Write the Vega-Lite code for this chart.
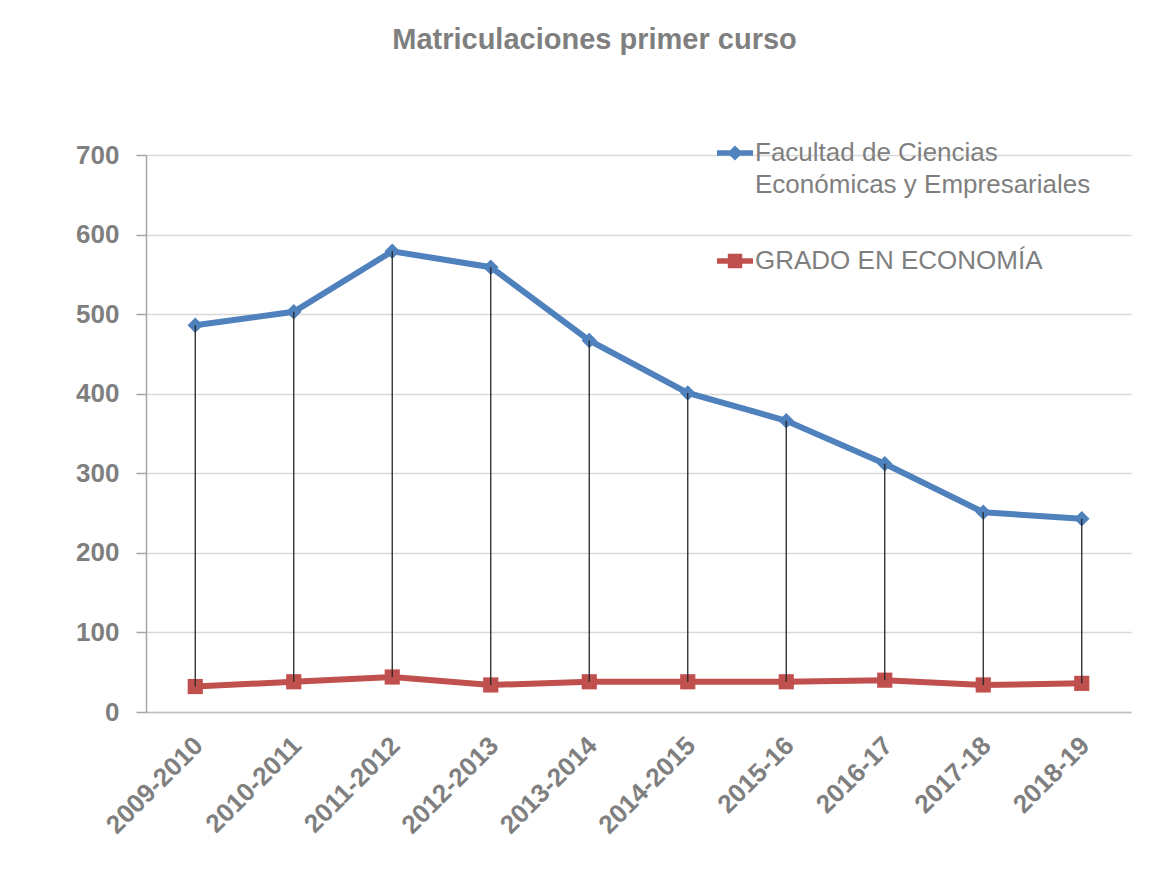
{
  "$schema": "https://vega.github.io/schema/vega-lite/v6.json",
  "width": 985,
  "height": 557,
  "autosize": {"type": "none"},
  "padding": {"left": 146, "top": 155, "right": 38, "bottom": 167},
  "background": "white",
  "config": {
    "view": {"stroke": null},
    "font": "Liberation Sans, sans-serif"
  },
  "title": {
    "text": "Matriculaciones primer curso",
    "fontSize": 29,
    "fontWeight": "bold",
    "color": "#7f7f7f",
    "font": "Liberation Sans, sans-serif",
    "anchor": "middle",
    "frame": "group",
    "dx": -44,
    "offset": 80
  },
  "data": {
    "values": [
      {"curso": "2009-2010", "fac": 486, "grado": 32},
      {"curso": "2010-2011", "fac": 503, "grado": 38},
      {"curso": "2011-2012", "fac": 579, "grado": 44},
      {"curso": "2012-2013", "fac": 559, "grado": 34},
      {"curso": "2013-2014", "fac": 467, "grado": 38},
      {"curso": "2014-2015", "fac": 401, "grado": 38},
      {"curso": "2015-16", "fac": 366, "grado": 38},
      {"curso": "2016-17", "fac": 312, "grado": 40},
      {"curso": "2017-18", "fac": 251, "grado": 34},
      {"curso": "2018-19", "fac": 243, "grado": 36}
    ]
  },
  "encoding": {
    "x": {
      "field": "curso",
      "type": "ordinal",
      "sort": null,
      "scale": {"type": "point", "padding": 0.5},
      "axis": {
        "title": null,
        "domain": true,
        "domainColor": "#bfbfbf",
        "domainWidth": 1.5,
        "ticks": false,
        "grid": false,
        "labelAngle": -45,
        "labelAlign": "right",
        "labelBaseline": "top",
        "labelOffset": -6,
        "labelPadding": 20,
        "labelFontSize": 26,
        "labelFontWeight": "bold",
        "labelColor": "#7f7f7f",
        "labelFont": "Liberation Sans, sans-serif"
      }
    }
  },
  "layer": [
    {
      "transform": [{"fold": ["fac", "grado"], "as": ["serie", "valor"]}],
      "mark": {"type": "line", "strokeWidth": 6},
      "encoding": {
        "y": {
          "field": "valor",
          "type": "quantitative",
          "scale": {"domain": [0, 700], "nice": false},
          "axis": {
            "title": null,
            "values": [0, 100, 200, 300, 400, 500, 600, 700],
            "grid": true,
            "gridColor": "#d9d9d9",
            "gridWidth": 1.5,
            "domain": true,
            "domainColor": "#a6a6a6",
            "domainWidth": 1.5,
            "ticks": true,
            "tickColor": "#a6a6a6",
            "tickSize": 10,
            "tickWidth": 1.5,
            "labelPadding": 17,
            "labelFontSize": 26,
            "labelFontWeight": "bold",
            "labelColor": "#7f7f7f",
            "labelFont": "Liberation Sans, sans-serif"
          }
        },
        "color": {
          "field": "serie",
          "type": "nominal",
          "scale": {"domain": ["fac", "grado"], "range": ["#4f81bd", "#c0504d"]},
          "legend": {
            "orient": "none",
            "legendX": 571,
            "legendY": -20,
            "title": null,
            "symbolType": "M-1,-0.15H1V0.15H-1Z",
            "symbolSize": 1296,
            "symbolStrokeWidth": 0,
            "labelFontSize": 26,
            "labelFont": "Liberation Sans, sans-serif",
            "labelColor": "#7f7f7f",
            "labelFontWeight": "normal",
            "labelOffset": 2,
            "labelLimit": 600,
            "rowPadding": 45,
            "labelExpr": "datum.value === 'fac' ? ['Facultad de Ciencias', 'Económicas y Empresariales'] : 'GRADO EN ECONOMÍA'",
            "encode": {
              "symbols": {
                "update": {
                  "shape": {"signal": "datum.value === 'grado' ? 'M-1,-0.15H1V0.15H-1Z M-0.4,-0.4H0.4V0.4H-0.4Z' : 'M-1,-0.15H1V0.15H-1Z M0,-0.42L0.42,0L0,0.42L-0.42,0Z'"},
                  "fill": {"signal": "datum.value === 'grado' ? '#c0504d' : '#4f81bd'"},
                  "strokeWidth": {"value": 0}
                }
              },
              "labels": {
                "update": {"lineHeight": {"value": 32}}
              }
            }
          }
        }
      }
    },
    {
      "transform": [{"filter": "datum.fac != null"}],
      "mark": {"type": "point", "filled": true, "opacity": 1, "size": 240, "shape": "diamond", "color": "#4f81bd"},
      "encoding": {
        "y": {"field": "fac", "type": "quantitative"}
      }
    },
    {
      "transform": [{"filter": "datum.grado != null"}],
      "mark": {"type": "point", "filled": true, "opacity": 1, "size": 230, "shape": "square", "color": "#c0504d"},
      "encoding": {
        "y": {"field": "grado", "type": "quantitative"}
      }
    },
    {
      "mark": {"type": "rule", "color": "#262626", "strokeWidth": 1.3},
      "encoding": {
        "y": {"field": "fac", "type": "quantitative"},
        "y2": {"field": "grado"}
      }
    }
  ]
}
